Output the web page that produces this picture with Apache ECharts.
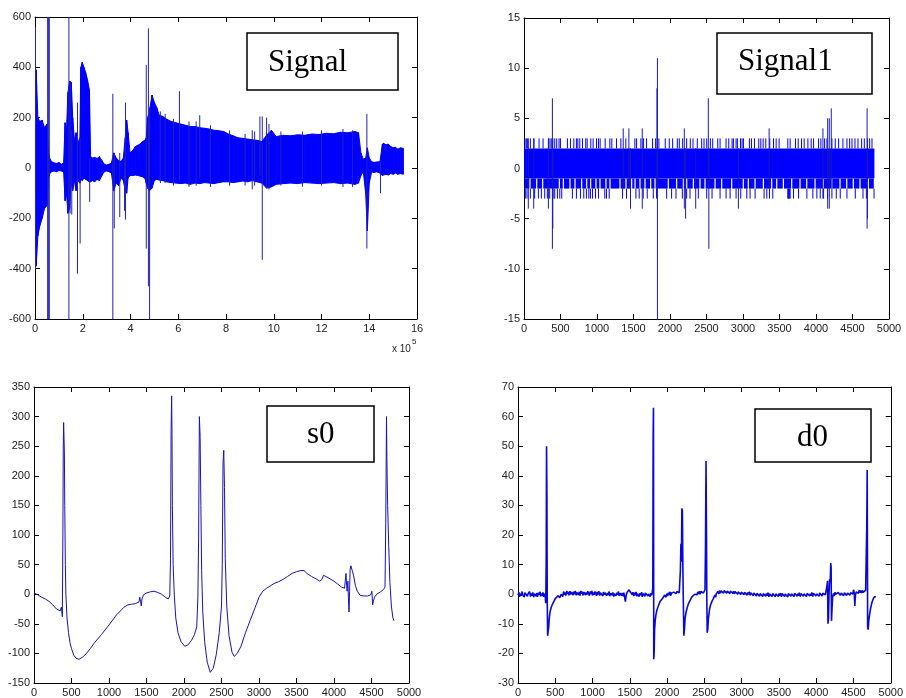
<!DOCTYPE html>
<html>
<head>
<meta charset="utf-8">
<script src="https://cdn.jsdelivr.net/npm/echarts@6/dist/echarts.min.js"></script>
<style>
  html, body { margin: 0; padding: 0; background: #fff; }
  #chart { width: 906px; height: 698px; }
</style>
</head>
<body>
<div id="chart"></div>
<script>
// --- Signal (x in units of 1e5 samples): envelope of the dense trace
const sigX = [0, 0.05, 0.12, 0.2, 0.3, 0.4, 0.5, 0.56, 0.63, 0.7, 0.8, 0.9, 1.0, 1.1, 1.2, 1.26, 1.32, 1.38, 1.45, 1.52,
  1.58, 1.65, 1.72, 1.8, 1.88, 1.92, 1.98, 2.05, 2.12, 2.2, 2.28, 2.33, 2.4, 2.5, 2.6, 2.7, 2.8, 2.9, 3.0, 3.1,
  3.2, 3.3, 3.4, 3.5, 3.6, 3.7, 3.78, 3.84, 3.9, 3.98, 4.1, 4.2, 4.3, 4.4, 4.5, 4.6, 4.66, 4.72, 4.8, 4.9,
  5.0, 5.1, 5.2, 5.35, 5.5, 5.7, 5.9, 6.1, 6.3, 6.5, 6.7, 6.9, 7.1, 7.3, 7.5, 7.7, 7.9, 8.1, 8.3, 8.5,
  8.7, 8.9, 9.1, 9.3, 9.5, 9.7, 9.9, 10.1, 10.4, 10.7, 11.0, 11.3, 11.6, 11.9, 12.2, 12.5, 12.8, 13.1, 13.4, 13.55,
  13.65, 13.75, 13.85, 13.92, 14.0, 14.1, 14.2, 14.3, 14.45, 14.55, 14.6, 14.7, 14.8, 14.9, 15.0, 15.1, 15.2, 15.3, 15.43];
const sigHi = [380, 390, 200, 185, 190, 160, 175, 60, 35, 25, 20, 18, 22, 15, 20, 180, 150, 300, 345, 340,
  200, 110, 140, 100, 120, 400, 420, 400, 380, 350, 310, 45, 40, 42, 38, 45, 30, 15, 12, 15,
  20, 60, 40, 30, 25, 40, 120, 190, 140, 60, 70, 85, 90, 95, 105, 110, 120, 200, 230, 290,
  260, 240, 210, 205, 195, 185, 180, 175, 170, 165, 165, 160, 158, 155, 150, 148, 145, 135, 128, 120,
  118, 115, 112, 110, 105, 130, 150, 125, 130, 128, 132, 130, 135, 133, 138, 136, 142, 140, 145, 140,
  60, 35, 40, 80, 40, 25, 22, 24, 25, 95, 98, 92, 95, 85, 80, 82, 75, 80, 78];
const sigLo = [-300, -390, -270, -230, -200, -160, -150, -40, -20, -15, -12, -15, -10, -12, -15, -130, -100, -180, -160, -60,
  -90, -50, -90, -50, -60, -45, -50, -40, -45, -50, -55, -55, -50, -55, -45, -50, -30, -15, -12, -15,
  -20, -90, -60, -70, -40, -50, -90, -100, -40, -30, -30, -28, -30, -32, -35, -40, -60, -80, -90, -80,
  -50, -45, -48, -50, -55, -58, -60, -62, -60, -65, -60, -62, -58, -60, -62, -58, -55, -55, -58, -55,
  -52, -55, -50, -55, -60, -80, -75, -65, -62, -60, -62, -58, -60, -62, -60, -58, -62, -60, -65, -60,
  -30, -15, -100, -250, -60, -15, -18, -15, -20, -30, -28, -25, -28, -22, -25, -20, -25, -22, -25];
// isolated spikes and edge tufts: [x, low, high]
const sigSpikes = [[0.02, -400, 560], [0.53, -600, 600], [0.56, -600, 600], [0.6, -600, 600], [1.42, -600, 600],
  [1.47, -180, 345], [1.54, -185, 150], [1.78, -420, 260], [1.89, -300, 120], [2.29, -135, 40],
  [3.26, -600, 295], [3.32, -240, 60], [3.55, -195, 60], [3.75, -170, 40], [3.79, -205, 260],
  [4.66, -320, 410], [4.75, -470, 555], [4.8, -600, 240], [6.05, -50, 305], [6.9, -40, 210],
  [9.42, -30, 205], [9.52, -365, 205], [9.7, -80, 200], [13.9, -320, 215], [14.47, -100, 25],
  [5.25, -60, 225], [5.45, -60, 215], [5.8, -70, 195], [6.45, -75, 185], [6.75, -70, 185], [7.35, -75, 170],
  [8.15, -70, 150], [8.8, -70, 135], [9.1, -85, 150], [9.2, -70, 145], [9.8, -85, 175], [10.3, -70, 145],
  [11.2, -75, 145], [12.0, -70, 150], [12.9, -75, 155], [13.3, -75, 150]];

// --- Signal1: integer valued trace, mostly -1..2
const sig1End = 4800;
const sig1Up = [14, 32, 50, 87, 137, 206, 261, 339, 357, 380, 421, 448, 480, 499, 595, 636, 682, 718, 737, 764,
  801, 846, 865, 915, 947, 993, 1020, 1043, 1112, 1176, 1203, 1267, 1327, 1395, 1519, 1542, 1601, 1638, 1679, 1761,
  1803, 1848, 1935, 1990, 2036, 2100, 2127, 2173, 2228, 2278, 2315, 2374, 2434, 2466, 2503, 2553, 2585, 2654, 2686, 2768,
  2805, 2850, 2869, 2905, 2923, 2965, 2987, 3006, 3088, 3116, 3157, 3216, 3244, 3276, 3312, 3367, 3418, 3454, 3495, 3614,
  3646, 3719, 3756, 3802, 3838, 3889, 3934, 3967, 4035, 4067, 4118, 4150, 4218, 4264, 4310, 4369, 4424, 4461, 4493, 4534,
  4575, 4625, 4662, 4735, 4767];
const sig1Down = [18, 41, 87, 146, 197, 238, 284, 320, 352, 398, 421, 458, 490, 517, 663, 718, 773, 819, 855, 888,
  910, 938, 979, 1020, 1107, 1130, 1167, 1350, 1404, 1533, 1578, 1633, 1688, 1771, 1816, 1954, 2022, 2082, 2169, 2228,
  2274, 2388, 2503, 2576, 2686, 2768, 2823, 2905, 2969, 3052, 3097, 3166, 3289, 3326, 3363, 3408, 3614, 3621, 3628, 3635,
  3646, 3692, 3761, 3875, 3957, 4012, 4058, 4104, 4159, 4218, 4278, 4332, 4424, 4538, 4644, 4690, 4795];
// columns where the trace never reaches -2
const sig1Gaps = [82, 174, 256, 484, 539, 630, 699, 790, 859, 913, 986, 1041, 1123, 1178, 1315, 1397, 1475, 1521, 1589, 1658,
  1735, 1795, 1977, 2091, 2183, 2229, 2320, 2411, 2480, 2617, 2708, 2845, 3004, 3073, 3165, 3279, 3393, 3462, 3553, 3667,
  3781, 3873, 3987, 4101, 4215, 4329, 4421, 4511, 4603, 4717];
const sig1Spikes = [[59, -4, 3], [133, -4, 3], [334, -4, 3], [389, -8, 7], [395, -6, 3], [1359, -2, 4], [1437, -2, 4],
  [1459, -4, 2], [1620, -4, 4], [1821, -2, 8], [1828, -15, 11], [2196, -4, 4], [2214, -5, 2], [2352, -4, 2],
  [2525, -2, 7], [2532, -8, 2], [2937, -4, 2], [3358, -2, 4], [4095, -3, 4], [4160, -4, 5], [4182, -4, 5],
  [4209, -2, 6], [4700, -6, 6], [4705, -5, 3]];

// --- s0: [sample, value]
const s0Points = [[0, 2], [50, -1], [100, -5], [150, -8], [200, -12], [250, -18], [300, -25], [350, -28], [365, -22], [378, -38],
  [385, 100], [390, 245], [395, 290], [400, 292], [405, 240], [410, 150], [418, 50], [425, 0], [440, -40], [460, -65],
  [480, -82], [500, -92], [530, -103], [560, -108], [600, -110], [650, -106], [700, -100], [750, -92], [800, -83], [900, -68],
  [1000, -52], [1100, -35], [1200, -22], [1250, -18], [1300, -17], [1350, -16], [1400, -13], [1410, -5], [1420, -12], [1430, -20],
  [1440, -8], [1460, -1], [1500, 2], [1550, 4], [1600, 5], [1650, 3], [1700, 0], [1750, -5], [1790, -8], [1810, -3],
  [1820, 60], [1828, 275], [1835, 335], [1840, 270], [1845, 150], [1855, 50], [1870, 0], [1890, -40], [1920, -65], [1960, -80],
  [2010, -88], [2050, -86], [2100, -78], [2140, -68], [2170, -55], [2185, -5], [2195, 100], [2205, 300], [2215, 265], [2225, 150],
  [2235, 40], [2250, -30], [2275, -80], [2310, -115], [2350, -132], [2390, -125], [2430, -102], [2470, -65], [2500, -20], [2510, 50],
  [2520, 220], [2530, 243], [2540, 180], [2550, 60], [2570, -20], [2600, -70], [2640, -98], [2670, -105], [2710, -100], [2760, -88],
  [2820, -65], [2880, -45], [2950, -22], [3000, -5], [3050, 5], [3100, 10], [3150, 14], [3200, 18], [3260, 21], [3320, 25],
  [3380, 30], [3440, 35], [3500, 38], [3560, 40], [3600, 40], [3640, 35], [3700, 30], [3760, 26], [3810, 22], [3840, 25],
  [3860, 32], [3880, 30], [3920, 28], [3960, 25], [4000, 22], [4050, 17], [4100, 12], [4140, 10], [4150, 10], [4160, 35],
  [4168, 15], [4175, 5], [4185, 22], [4192, -5], [4200, -30], [4208, 5], [4215, 42], [4225, 48], [4240, 45], [4260, 32],
  [4285, 15], [4310, 5], [4350, -2], [4400, -3], [4450, -3], [4490, -1], [4505, 5], [4515, -18], [4525, -12], [4540, -5],
  [4570, 0], [4620, 4], [4660, 8], [4680, 12], [4690, 120], [4700, 300], [4705, 230], [4715, 150], [4730, 80], [4745, 20],
  [4765, -20], [4785, -40], [4800, -45]];

// --- d0: [sample, value]
const d0Points = [[0, -0.3], [12, 0.7], [20, -0.9], [33, 0.2], [41, -0.5], [55, 0.9], [63, -0.2], [70, 0.4], [84, -1.0], [92, 0.5],
  [105, -0.1], [113, 0.8], [126, -0.7], [134, 0.1], [147, -0.4], [155, 0.9], [168, -0.8], [176, 0.3], [190, -0.5], [198, 0.6],
  [211, -1.0], [219, 0.2], [232, 0.7], [240, -0.6], [253, 0.4], [261, -0.9], [274, 0.5], [282, -0.2], [295, 0.8], [303, -0.7],
  [316, 0.3], [324, -0.6], [337, 0.6], [345, -0.9], [358, 0.2], [366, -1], [372, -3], [378, 10], [383, 50], [388, 33],
  [392, -2], [398, -14], [405, -14], [412, -11], [420, -8], [430, -6], [445, -4.5], [460, -3.5], [480, -2.5], [500, -1.5],
  [520, -1.8], [540, -0.5], [560, -1.2], [580, 0], [600, -0.8], [612, 0.9], [621, -0.2], [633, 0.6], [641, -0.5], [655, 1.1],
  [663, 0.1], [676, 0.8], [684, -0.4], [697, 1.0], [705, -0.1], [718, 0.7], [726, 1.2], [739, -0.3], [747, 0.9], [760, 0.0],
  [768, 1.1], [781, -0.4], [789, 0.6], [802, 1.0], [810, -0.2], [823, 0.8], [831, -0.5], [844, 1.1], [852, 0.2], [865, 0.9],
  [873, -0.4], [886, 0.7], [894, 1.0], [907, -0.3], [915, 0.6], [928, -0.1], [936, 1.0], [949, 0.2], [957, -0.5], [970, 0.9],
  [978, 0.1], [991, 1.1], [999, -0.4], [1012, 0.6], [1020, -0.2], [1033, 0.9], [1041, 0.3], [1054, -0.6], [1062, 0.8], [1075, -0.1],
  [1083, 1.0], [1096, -0.5], [1104, 0.5], [1117, 0.0], [1125, 0.9], [1138, -0.6], [1146, 0.7], [1159, -0.2], [1167, 0.5], [1180, 1.0],
  [1188, -0.5], [1201, 0.4], [1209, -0.3], [1222, 0.9], [1230, -0.7], [1243, 0.3], [1251, 0.8], [1264, -0.4], [1272, 0.6], [1285, -0.8],
  [1293, 0.2], [1306, 0.7], [1314, -0.5], [1327, 0.5], [1335, -0.2], [1348, 0.9], [1356, -0.6], [1369, 0.3], [1377, 0.7], [1390, -0.5],
  [1398, 0.4], [1411, -0.7], [1420, 0.5], [1440, -2.5], [1450, -0.5], [1462, 0.6], [1475, 0.1], [1490, 1.5], [1505, 0.8], [1520, 1.2],
  [1533, -0.2], [1541, 0.7], [1554, -0.6], [1562, 0.5], [1575, -0.3], [1583, 0.8], [1596, -0.7], [1604, 0.2], [1617, 0.6], [1625, -0.8],
  [1638, 0.3], [1646, -0.4], [1659, 0.7], [1667, -0.9], [1680, 0.2], [1688, 0.5], [1701, -0.7], [1709, 0.4], [1722, -0.2], [1730, 0.8],
  [1743, -0.6], [1751, 0.1], [1764, 0.6], [1772, -0.8], [1785, 0.3], [1793, -0.4], [1800, 0.5], [1808, 2], [1813, 54], [1817, 63],
  [1821, -22], [1826, -20], [1832, -12], [1840, -9], [1850, -7], [1862, -5.5], [1875, -4.5], [1890, -3.5], [1905, -2.5], [1925, -2],
  [1945, -1.2], [1965, -0.3], [1985, -1], [1997, 0.2], [2005, -0.6], [2018, 0.5], [2026, -0.3], [2039, 0.8], [2047, -0.5], [2060, 0.4],
  [2068, 0.9], [2081, -0.1], [2089, 0.7], [2102, 0.1], [2110, 1.1], [2123, 0.2], [2131, 0.9], [2144, 0.4], [2152, 1.3], [2163, 0.5],
  [2170, 0.9], [2178, 8], [2185, 17], [2192, 11], [2198, 29], [2205, 28], [2212, 8], [2218, -3], [2225, -14], [2232, -12],
  [2242, -8], [2255, -6], [2270, -4.5], [2290, -3], [2310, -2], [2330, -1], [2350, -1.4], [2370, 0], [2382, -0.6], [2390, 0.5],
  [2403, -0.2], [2411, 0.8], [2424, 0.1], [2432, 1.0], [2445, 0.0], [2453, 0.9], [2466, 0.3], [2474, 1.3], [2487, 0.4], [2495, 1.0],
  [2508, 1.5], [2515, 16], [2522, 45], [2528, 22], [2533, -2], [2538, -13], [2545, -12], [2555, -8], [2570, -5], [2585, -3.5],
  [2600, -2.5], [2620, -1.5], [2640, -0.3], [2652, -1.0], [2660, 0.2], [2673, -0.2], [2681, 0.9], [2694, 0.1], [2702, 1.2], [2715, 0.3],
  [2723, 1.1], [2736, 0.5], [2744, 1.4], [2757, 0.4], [2765, 1.2], [2778, 0.6], [2786, 1.5], [2799, 0.3], [2807, 1.1], [2820, 0.5],
  [2828, 1.3], [2841, 0.2], [2849, 1.0], [2862, 0.6], [2870, 1.6], [2883, 0.3], [2891, 1.0], [2904, 0.1], [2912, 0.9], [2925, 0.4],
  [2933, 1.2], [2946, 0.0], [2954, 0.8], [2967, 0.3], [2975, 1.1], [2988, -0.1], [2996, 0.7], [3009, 0.2], [3017, 1.0], [3030, -0.2],
  [3038, 0.6], [3051, 0.1], [3059, 0.9], [3072, -0.3], [3080, 0.6], [3093, -0.1], [3101, 0.8], [3114, -0.4], [3122, 0.5], [3135, 0.0],
  [3143, 0.7], [3156, -0.5], [3164, 0.4], [3177, -0.1], [3185, 0.6], [3198, -0.6], [3206, 0.3], [3219, -0.2], [3227, 0.5], [3240, -0.7],
  [3248, 0.2], [3261, -0.3], [3269, 0.6], [3282, -0.8], [3290, 0.2], [3303, -0.4], [3311, 0.4], [3324, -0.7], [3332, 0.3], [3345, -0.5],
  [3353, 0.5], [3366, -0.9], [3374, 0.1], [3387, -0.3], [3395, 0.5], [3408, -0.8], [3416, 0.2], [3429, -0.4], [3437, 0.4], [3450, -0.9],
  [3458, 0.1], [3471, -0.3], [3479, 0.5], [3492, -0.8], [3500, 0.2], [3513, -0.5], [3521, 0.3], [3534, -0.9], [3542, 0.2], [3555, -0.4],
  [3563, 0.4], [3576, -0.8], [3584, 0.1], [3597, -0.5], [3605, 0.3], [3618, -0.9], [3626, 0.2], [3639, -0.3], [3647, 0.5], [3660, -0.7],
  [3668, 0.1], [3681, -0.4], [3689, 0.5], [3702, -0.8], [3710, 0.3], [3723, -0.3], [3731, 0.6], [3744, -0.7], [3752, 0.2], [3765, -0.5],
  [3773, 0.5], [3786, -0.8], [3794, 0.2], [3807, -0.3], [3815, 0.6], [3828, -0.7], [3836, 0.1], [3849, -0.4], [3857, 0.6], [3870, -0.8],
  [3878, 0.3], [3891, -0.3], [3899, 0.7], [3912, -0.6], [3920, 0.2], [3933, -0.5], [3941, 0.6], [3954, -0.8], [3962, 0.3], [3975, -0.2],
  [3983, 0.7], [3996, -0.6], [4004, 0.1], [4017, -0.4], [4025, 0.7], [4038, -0.7], [4046, 0.4], [4059, -0.2], [4067, 0.6], [4080, -0.6],
  [4088, 0.3], [4101, -0.3], [4109, 0.8], [4122, -0.2], [4130, 0.8], [4145, 3], [4152, 4.5], [4158, -10], [4165, -8], [4172, 0],
  [4180, 5], [4188, 4], [4195, 10.5], [4200, 9], [4205, -9], [4212, -5], [4220, -1], [4232, 0.3], [4240, -0.6], [4253, 0.7],
  [4261, -0.1], [4274, 0.5], [4282, -0.5], [4295, 0.6], [4303, 0.0], [4316, 0.8], [4324, -0.4], [4337, 0.4], [4345, -0.2], [4358, 0.7],
  [4366, -0.5], [4379, 0.5], [4387, 0.0], [4400, 0.7], [4408, -0.4], [4421, 0.4], [4429, -0.1], [4442, 0.8], [4450, -0.3], [4463, 0.5],
  [4471, 0.1], [4484, 0.7], [4492, 0.0], [4500, 1.5], [4510, 0.5], [4518, -4], [4525, -0.5], [4537, 0.8], [4545, 0.2], [4558, 1.1],
  [4566, 0.3], [4579, 1.4], [4587, 0.5], [4600, 1.2], [4608, 0.4], [4621, 1.3], [4629, 0.6], [4642, 1.1], [4650, 0.5], [4663, 1.4],
  [4670, 1.5], [4678, 23], [4684, 42], [4690, -11], [4697, -12], [4705, -9], [4715, -7], [4728, -5], [4745, -3], [4765, -1.5],
  [4785, -0.8], [4800, -1]];

const BLUE = '#0000ff';
const LINE = '#1414b4';

const chart = echarts.init(document.getElementById('chart'));

const grids = [
  { left: 35, top: 17, width: 382, height: 302 },
  { left: 524, top: 18, width: 365, height: 301 },
  { left: 34, top: 387, width: 375, height: 296 },
  { left: 518, top: 387, width: 377, height: 297 }
];
const ranges = [
  { x: [0, 16, 2], y: [-600, 600, 200] },
  { x: [0, 5000, 500], y: [-15, 15, 5] },
  { x: [0, 5000, 500], y: [-150, 350, 50] },
  { x: [0, 5000, 500], y: [-30, 70, 10] }
];

const xAxes = [];
const yAxes = [];
ranges.forEach((r, i) => {
  const common = {
    gridIndex: i, type: 'value',
    axisLine: { show: true, onZero: false, lineStyle: { color: '#000', width: 1 } },
    axisTick: { show: true, inside: true, length: 5, lineStyle: { color: '#000' } },
    splitLine: { show: false }
  };
  const label = {
    color: '#222', fontFamily: 'Liberation Sans', fontSize: 11, margin: 4,
    formatter: v => String(v)
  };
  xAxes.push(Object.assign({}, common, { position: 'bottom', min: r.x[0], max: r.x[1], interval: r.x[2], axisLabel: label }));
  xAxes.push(Object.assign({}, common, { position: 'top', min: r.x[0], max: r.x[1], interval: r.x[2], axisLabel: { show: false } }));
  yAxes.push(Object.assign({}, common, { position: 'left', min: r.y[0], max: r.y[1], interval: r.y[2], axisLabel: label }));
  yAxes.push(Object.assign({}, common, { position: 'right', min: r.y[0], max: r.y[1], interval: r.y[2], axisLabel: { show: false } }));
});

// band of the dense Signal trace, one quad per envelope step
const sigBand = [];
for (let i = 0; i < sigX.length - 1; i++) {
  sigBand.push([sigX[i], sigLo[i], sigHi[i], sigX[i + 1], sigLo[i + 1], sigHi[i + 1]]);
}

// Signal1 pieces
const sig1Core = [[0, sig1End, -1, 2]];
const gapEdges = [0].concat(sig1Gaps, [sig1End]);
const sig1Lower = [];
for (let i = 0; i < gapEdges.length - 1; i++) {
  sig1Lower.push([gapEdges[i], gapEdges[i + 1], -2, -1]);
}
const sig1Teeth = sig1Up.map(x => [x, 2, 3]).concat(sig1Down.map(x => [x, -3, -2]));

function bandItem(params, api) {
  const a = api.coord([api.value(0), api.value(2)]);
  const b = api.coord([api.value(3), api.value(5)]);
  const c = api.coord([api.value(3), api.value(4)]);
  const d = api.coord([api.value(0), api.value(1)]);
  return { type: 'polygon', shape: { points: [a, b, c, d] }, style: { fill: BLUE, stroke: BLUE, lineWidth: 1 } };
}
function rectItem(inset) {
  return function (params, api) {
    const p1 = api.coord([api.value(0), api.value(3)]);
    const p2 = api.coord([api.value(1), api.value(2)]);
    return {
      type: 'rect',
      shape: { x: p1[0] + inset, y: p1[1], width: p2[0] - p1[0] - 2 * inset, height: p2[1] - p1[1] },
      style: { fill: BLUE }
    };
  };
}
function segItem(color, width) {
  return function (params, api) {
    const p1 = api.coord([api.value(0), api.value(1)]);
    const p2 = api.coord([api.value(0), api.value(2)]);
    return { type: 'line', shape: { x1: p1[0], y1: p1[1], x2: p2[0], y2: p2[1] }, style: { stroke: color, lineWidth: width } };
  };
}

const series = [
  { type: 'custom', xAxisIndex: 0, yAxisIndex: 0, data: sigBand, renderItem: bandItem, clip: true, silent: true },
  { type: 'custom', xAxisIndex: 0, yAxisIndex: 0, data: sigSpikes, renderItem: segItem('#2222bb', 1), clip: true, silent: true },
  { type: 'custom', xAxisIndex: 2, yAxisIndex: 2, data: sig1Core, renderItem: rectItem(0), clip: true, silent: true },
  { type: 'custom', xAxisIndex: 2, yAxisIndex: 2, data: sig1Lower, renderItem: rectItem(0.6), clip: true, silent: true },
  { type: 'custom', xAxisIndex: 2, yAxisIndex: 2, data: sig1Teeth, renderItem: segItem(BLUE, 1), clip: true, silent: true },
  { type: 'custom', xAxisIndex: 2, yAxisIndex: 2, data: sig1Spikes, renderItem: segItem('#1a1ab8', 1), clip: true, silent: true },
  {
    type: 'line', xAxisIndex: 4, yAxisIndex: 4, data: s0Points, showSymbol: false, clip: true,
    lineStyle: { color: LINE, width: 1 }, silent: true
  },
  {
    type: 'line', xAxisIndex: 6, yAxisIndex: 6, data: d0Points, showSymbol: false, clip: true,
    lineStyle: { color: '#0808d8', width: 1.6 }, silent: true
  }
];

function labelBox(x, y, w, h, text, tx, ty) {
  return [
    { type: 'rect', z: 100, shape: { x: x, y: y, width: w, height: h }, style: { fill: '#fff', stroke: '#000', lineWidth: 1.5 } },
    {
      type: 'text', z: 101, x: tx, y: ty,
      style: { text: text, fill: '#000', font: '31px "Liberation Serif"', align: 'left', verticalAlign: 'middle' }
    }
  ];
}

const graphic = [].concat(
  labelBox(247, 33, 151, 57, 'Signal', 268, 63),
  labelBox(717, 33, 155, 61, 'Signal1', 738, 62),
  labelBox(267, 406, 107, 56, 's0', 307, 435),
  labelBox(755, 409, 116, 53, 'd0', 797, 438),
  [
    { type: 'text', z: 101, x: 392, y: 349, style: { text: 'x 10', fill: '#222', font: '10px "Liberation Sans"', verticalAlign: 'middle' } },
    { type: 'text', z: 101, x: 412, y: 342, style: { text: '5', fill: '#222', font: '8px "Liberation Sans"', verticalAlign: 'middle' } }
  ]
);

chart.setOption({
  animation: false,
  backgroundColor: '#fff',
  grid: grids,
  xAxis: xAxes,
  yAxis: yAxes,
  series: series,
  graphic: graphic
});
</script>
</body>
</html>
